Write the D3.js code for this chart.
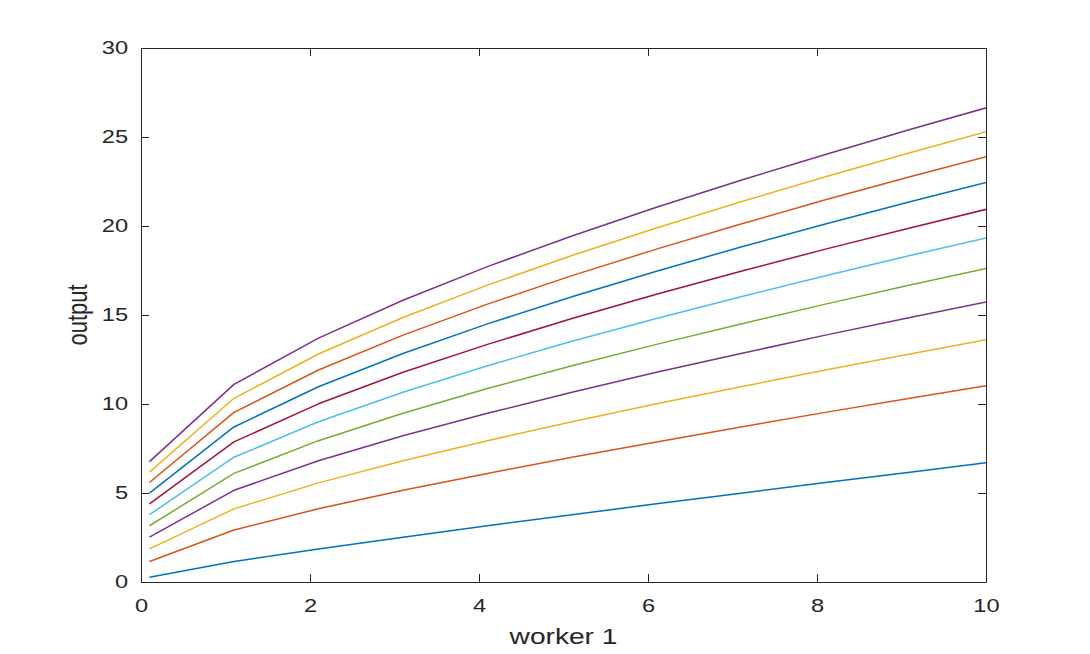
<!DOCTYPE html>
<html><head><meta charset="utf-8">
<script src="https://cdn.jsdelivr.net/npm/d3@7"></script>
<style>
body{margin:0;background:#fff;}
svg{display:block;}
.axis text{font-family:"Liberation Sans",Arial,Helvetica,sans-serif;fill:#262626;}
</style>
</head><body>
<svg id="chart" width="1090" height="654"></svg>
<script>
// worker 1 values (x) – sampled every 1 from 0.1
const worker1 = [0.1, 1.1, 2.1, 3.1, 4.1, 5.1, 6.1, 7.1, 8.1, 9.1, 10.1];

// output for each level of worker 2 (bottom line to top line)
const outW2_01  = [0.27, 1.15, 1.86, 2.52, 3.16, 3.78, 4.39, 4.99, 5.59, 6.17, 6.76];
const outW2_11  = [1.15, 2.92, 4.11, 5.15, 6.10, 7.01, 7.87, 8.71, 9.53, 10.32, 11.10];
const outW2_21  = [1.86, 4.11, 5.57, 6.81, 7.94, 9.00, 10.01, 10.97, 11.91, 12.81, 13.70];
const outW2_31  = [2.52, 5.15, 6.81, 8.22, 9.48, 10.66, 11.78, 12.84, 13.87, 14.86, 15.83];
const outW2_41  = [3.16, 6.10, 7.94, 9.48, 10.87, 12.15, 13.35, 14.50, 15.61, 16.68, 17.72];
const outW2_51  = [3.78, 7.01, 9.00, 10.66, 12.15, 13.52, 14.80, 16.03, 17.21, 18.34, 19.44];
const outW2_61  = [4.39, 7.87, 10.01, 11.78, 13.35, 14.80, 16.17, 17.46, 18.70, 19.89, 21.05];
const outW2_71  = [4.99, 8.71, 10.97, 12.84, 14.50, 16.03, 17.46, 18.82, 20.11, 21.36, 22.57];
const outW2_81  = [5.59, 9.53, 11.91, 13.87, 15.61, 17.21, 18.70, 20.11, 21.47, 22.77, 24.02];
const outW2_91  = [6.17, 10.32, 12.81, 14.86, 16.68, 18.34, 19.89, 21.36, 22.77, 24.12, 25.42];
const outW2_101 = [6.76, 11.10, 13.70, 15.83, 17.72, 19.44, 21.05, 22.57, 24.02, 25.42, 26.77];

const seriesList = [outW2_01, outW2_11, outW2_21, outW2_31, outW2_41, outW2_51,
                    outW2_61, outW2_71, outW2_81, outW2_91, outW2_101];

const lineColors = ["#0072BD", "#D95319", "#EDB120", "#7E2F8E", "#77AC30", "#4DBEEE", "#A2142F"];

const xTicks = [0, 2, 4, 6, 8, 10];
const yTicks = [0, 5, 10, 15, 20, 25, 30];
const xLabel = "worker 1";
const yLabel = "output";

// ---- layout ----
const L = 141, R = 986, T = 48, B = 582;
const SX = 1.28; // horizontal text stretch seen in the reference
const axisColor = "#262626";

const svg = d3.select("#chart");
const x = d3.scaleLinear().domain([0, 10]).range([L, R]);
const y = d3.scaleLinear().domain([0, 30]).range([B, T]);

svg.append("defs").append("clipPath").attr("id", "plotClip")
  .append("rect").attr("x", L).attr("y", T).attr("width", R - L).attr("height", B - T);

// lines
const line = d3.line().x(d => x(d[0])).y(d => y(d[1]));
svg.append("g").attr("clip-path", "url(#plotClip)")
  .selectAll("path").data(seriesList).join("path")
  .attr("d", s => line(worker1.map((w, i) => [w, s[i]])))
  .attr("fill", "none")
  .attr("stroke", (s, i) => lineColors[i % lineColors.length])
  .attr("stroke-width", 1.5)
  .attr("stroke-linejoin", "round");

function styleAxis(g) {
  g.select(".domain").attr("stroke", axisColor);
  g.selectAll(".tick line").attr("stroke", axisColor);
}

// bottom axis
const gB = svg.append("g").attr("class", "axis").attr("transform", `translate(0,${B})`)
  .call(d3.axisBottom(x).tickValues(xTicks).tickFormat(d3.format("d"))
    .tickSizeInner(-8).tickSizeOuter(0).tickPadding(17));
gB.call(styleAxis);
gB.selectAll("text").attr("font-size", 18.5)
  .attr("transform", `scale(${SX},1)`)
  .attr("x", 0);

// left axis
const gL = svg.append("g").attr("class", "axis").attr("transform", `translate(${L},0)`)
  .call(d3.axisLeft(y).tickValues(yTicks).tickFormat(d3.format("d"))
    .tickSizeInner(-8).tickSizeOuter(0).tickPadding(10));
gL.call(styleAxis);
gL.selectAll("text").attr("font-size", 18.5)
  .attr("transform", `scale(${SX},1)`);

// mirrored top/right axes (box)
const gT = svg.append("g").attr("class", "axis").attr("transform", `translate(0,${T})`)
  .call(d3.axisTop(x).tickValues(xTicks).tickFormat("").tickSizeInner(-8).tickSizeOuter(0));
gT.call(styleAxis);
const gR = svg.append("g").attr("class", "axis").attr("transform", `translate(${R},0)`)
  .call(d3.axisRight(y).tickValues(yTicks).tickFormat("").tickSizeInner(-8).tickSizeOuter(0));
gR.call(styleAxis);

// axis titles
svg.append("text").attr("class", "axis-title")
  .attr("transform", `translate(${(L + R) / 2},644) scale(${SX},1)`)
  .attr("text-anchor", "middle")
  .attr("font-family", '"Liberation Sans",Arial,sans-serif')
  .attr("font-size", 22).attr("fill", axisColor)
  .text(xLabel);

svg.append("text").attr("class", "axis-title")
  .attr("transform", `translate(87,${(T + B) / 2}) scale(${SX},1) rotate(-90)`)
  .attr("text-anchor", "middle")
  .attr("font-family", '"Liberation Sans",Arial,sans-serif')
  .attr("font-size", 22).attr("fill", axisColor)
  .text(yLabel);
</script>
</body></html>
